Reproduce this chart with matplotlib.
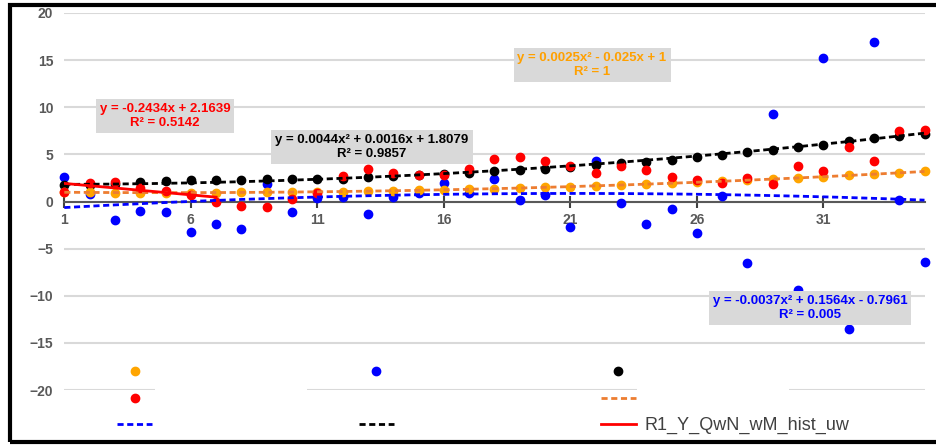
import numpy as np
import matplotlib
matplotlib.use("Agg")
import matplotlib.pyplot as plt
from matplotlib.lines import Line2D
from matplotlib.patches import Rectangle

plt.rcParams['font.family'] = ['Liberation Sans', 'DejaVu Sans']

# data
x = np.arange(1, 36)
blue = [2.6, 0.8, -2.0, -1.0, -1.1, -3.2, -2.4, -2.9, 1.9, -1.1,
        0.4, 0.5, -1.3, 0.45, 0.85, 2.0, 0.9, 2.4, 0.2, 0.7,
        -2.7, 4.25, -0.2, -2.4, -0.8, -3.3, 0.6, -6.5, 9.3, -9.4,
        15.2, -13.5, 16.9, 0.2, -6.4]
black = [1.8, 1.7, 1.85, 2.1, 2.15, 2.25, 2.3, 2.3, 2.35, 2.4,
         2.4, 2.4, 2.6, 2.7, 2.8, 2.9, 3.0, 3.2, 3.35, 3.5,
         3.7, 3.9, 4.05, 4.2, 4.45, 4.7, 4.95, 5.2, 5.5, 5.8,
         6.0, 6.45, 6.7, 7.0, 7.2]
orange = [0.98, 0.96, 0.95, 0.94, 0.94, 0.94, 0.95, 0.96, 0.98, 1.0,
          1.03, 1.06, 1.1, 1.14, 1.19, 1.24, 1.3, 1.36, 1.43, 1.5,
          1.58, 1.66, 1.75, 1.84, 1.94, 2.04, 2.15, 2.26, 2.38, 2.5,
          2.63, 2.76, 2.9, 3.04, 3.19]
red = [1.0, 2.0, 2.05, 1.45, 1.1, 0.65, -0.05, -0.5, -0.6, 0.3,
       0.9, 2.7, 3.5, 3.0, 2.85, 2.8, 3.45, 4.5, 4.75, 4.35,
       3.8, 3.0, 3.75, 3.3, 2.65, 2.3, 1.95, 2.5, 1.85, 3.75,
       3.2, 5.8, 4.25, 7.5, 7.6]

# trendline coefficients as printed on the chart
blue_fit = [-0.0037, 0.1564, -0.7961]
black_fit = [0.0044, 0.0016, 1.8079]
orange_fit = [0.0025, -0.025, 1.0]
red_fit = [-0.2434, 2.1639]
red_fit_n = 7

blue_eq = "y = -0.0037x² + 0.1564x - 0.7961\nR² = 0.005"
black_eq = "y = 0.0044x² + 0.0016x + 1.8079\nR² = 0.9857"
orange_eq = "y = 0.0025x² - 0.025x + 1\nR² = 1"
red_eq = "y = -0.2434x + 2.1639\nR² = 0.5142"
legend_label = "R1_Y_QwN_wM_hist_uw"

W, H = 936, 445
fig = plt.figure(figsize=(W / 100, H / 100), dpi=100)
ax = fig.add_axes([64.3 / W, (H - 390) / H, (924.5 - 64.3) / W, (390 - 13) / H])

c_blue, c_red, c_black = '#0000FF', '#FF0000', '#000000'
c_orange, c_orange_line = '#FFA500', '#ED7D31'
ms = 6

p_blue, = ax.plot(x, blue, 'o', color=c_blue, ms=ms, clip_on=False, zorder=3)
p_black, = ax.plot(x, black, 'o', color=c_black, ms=ms, clip_on=False, zorder=3)
p_orange, = ax.plot(x, orange, 'o', color=c_orange, ms=ms, clip_on=False, zorder=3)
p_red, = ax.plot(x, red, 'o', color=c_red, ms=ms, clip_on=False, zorder=3)

xs = np.linspace(x[0], x[-1], 200)
dash = (0, (2.2, 1.3))
lw = 2.0
t_blue, = ax.plot(xs, np.polyval(blue_fit, xs), color=c_blue, lw=lw, ls=dash, zorder=4)
t_black, = ax.plot(xs, np.polyval(black_fit, xs), color=c_black, lw=lw, ls=dash, zorder=4)
t_orange, = ax.plot(xs, np.polyval(orange_fit, xs), color=c_orange_line, lw=lw, ls=dash, zorder=4)
xr = x[:red_fit_n]
t_red, = ax.plot(xr, np.polyval(red_fit, xr), color=c_red, lw=lw, zorder=4)

ax.set_xlim(1, 35)
ax.set_ylim(-20, 20)
ax.set_xticks(np.arange(1, 36, 5))
ax.set_yticks(np.arange(-20, 21, 5))
for s in ['left', 'top', 'right']:
    ax.spines[s].set_visible(False)
ax.spines['bottom'].set_position(('data', 0))
ax.spines['bottom'].set_color('#595959')
ax.spines['bottom'].set_linewidth(1.5)
ax.spines['bottom'].set_zorder(2)
ax.yaxis.grid(True, color='#D9D9D9', lw=1.5)
ax.set_axisbelow(True)
ax.tick_params(axis='x', direction='inout', length=8, width=1.5, color='#404040',
               labelcolor='#595959', labelsize=10, pad=4)
ax.tick_params(axis='y', length=0, labelcolor='#595959', labelsize=10, pad=8)
for lab in ax.get_xticklabels() + ax.get_yticklabels():
    lab.set_fontweight('bold')

box = dict(boxstyle='square,pad=0.3', fc='#D9D9D9', ec='none')
kw = dict(ha='center', va='center', fontsize=9.5, fontweight='bold',
          multialignment='center', bbox=box, zorder=6)
ax.text(4.98, 9.07, red_eq, color=c_red, **kw)
ax.text(13.16, 5.78, black_eq, color='#000000', **kw)
ax.text(21.86, 14.48, orange_eq, color='#FFA000', **kw)
ax.text(30.47, -11.3, blue_eq, color=c_blue, **kw)

# blank legend label areas cover the bottom gridline in the original
for x0 in (155, 637):
    ax.add_patch(Rectangle((x0 / W, (H - 395) / H), 152 / W, 10 / H, transform=fig.transFigure,
                           fc='white', ec='none', clip_on=False, zorder=1.5))

blank = Line2D([], [], ls='none', marker=None)
handles = [p_orange, p_red, t_blue, p_blue, blank, t_black, p_black, t_orange, t_red]
labels = [''] * 8 + [legend_label]
fig.legend(handles, labels, ncol=3, loc='upper left',
           bbox_to_anchor=(117 / W, 1 - 364.5 / H), bbox_transform=fig.transFigure,
           frameon=False, fontsize=13, handlelength=1.94, handletextpad=0.5,
           columnspacing=10.96, labelspacing=0.52, borderpad=0, borderaxespad=0,
           labelcolor='#404040')

fig.patches.append(Rectangle((9.5 / W, 3.5 / H), 1.1, 437 / H, transform=fig.transFigure,
                             fill=False, ec='black', lw=3))

fig.savefig('out.png', dpi=100)
